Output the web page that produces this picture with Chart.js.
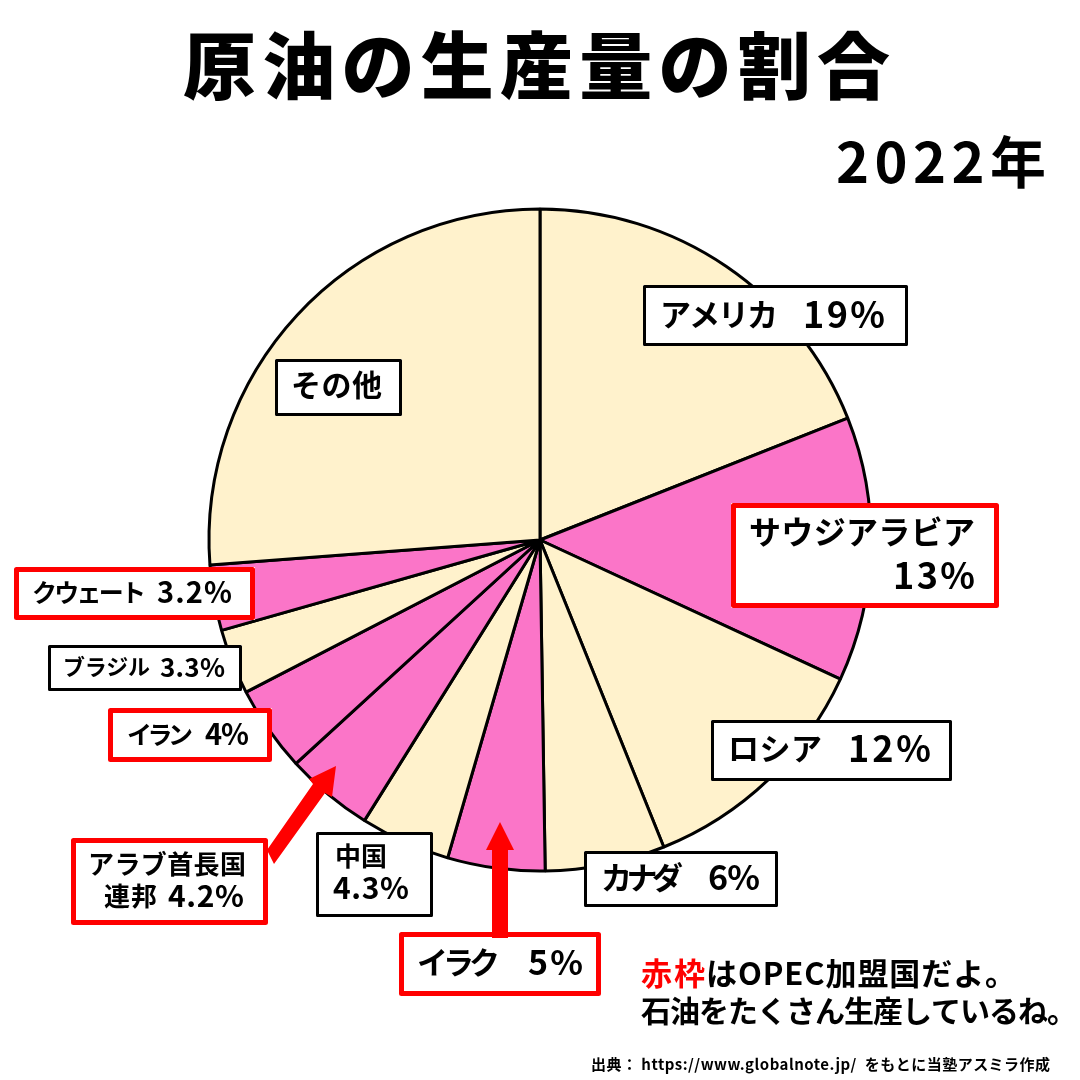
<!DOCTYPE html>
<html lang="ja">
<head>
<meta charset="utf-8">
<title>原油の生産量の割合</title>
<script src="https://cdn.jsdelivr.net/npm/chart.js@4"></script>
<style>html,body{margin:0;padding:0;background:#fff}canvas{display:block}</style>
</head>
<body>
<canvas id="c" width="1080" height="1080"></canvas>
<script>
const categories = ["アメリカ","サウジアラビア","ロシア","カナダ","イラク","中国","アラブ首長国連邦","イラン","ブラジル","クウェート","その他"];
const shares = [19,12.9,12,5.85,4.75,4.4,4.3,4.2,3.2,3.2,26.2];
const opecFlags = [false,true,false,false,true,false,true,true,false,true,false];
const titleText = "原油の生産量の割合";
const yearText = "2022年";
const noteLine1Red = "赤枠";
const noteLine1 = "はOPEC加盟国だよ。";
const noteLine2 = "石油をたくさん生産しているね。";
const sourceText = "出典： https://www.globalnote.jp/  をもとに当塾アスミラ作成";

const CREAM = "#FFF2CC", PINK = "#FB75C8", RED = "#FF0000", INK = "#000000";
const FONT = '"Noto Sans CJK JP","Noto Sans",sans-serif';

// Annotation layout: [outer left, top, right, bottom, red?, text runs]
// each run: [text, x0, x1, centerY, font size]
const boxes = [
  [643,285,908,346,false,[["アメリカ",660,778,314,31],["19%",803,885,314,36]]],
  [731,503,999,608,true,[["サウジアラビア",749,975,532,32],["13%",893,975,575,36]]],
  [711,720,952,781,false,[["ロシア",728,822,748,31],["12%",848,931,748,36]]],
  [584,851,778,907,false,[["カナダ",601,683,877,31],["6%",708,760,877,34]]],
  [399,932,601,996,true,[["イラク",417,500,962,31],["5%",528,583,962,34]]],
  [316,832,433,917,false,[["中国",335,387,856,26],["4.3%",333,409,888,30]]],
  [71,838,268,925,true,[["アラブ首長国",88,246,864,26],["連邦",104,157,896,26],["4.2%",168,244,896,30]]],
  [108,708,272,762,true,[["イラン",127,193,734,25],["4%",205,249,734,29]]],
  [48,645,242,691,false,[["ブラジル",63,150,667,22],["3.3%",160,225,667,26]]],
  [14,567,255,620,true,[["クウェート",32,146,592,25],["3.2%",157,232,592,29]]],
  [275,359,402,416,false,[["その他",291,382,385,30]]]
];
const arrows = [
  [[492,938],[492,850],[486,850],[500,822],[514,850],[508,850],[508,938]],
  [[267,850],[313,784],[309,779],[336,766],[332,797],[325,793],[274,864]]
];

function fitText(ctx, text, x0, x1, cy, size, weight, color) {
  ctx.font = `${weight} ${size}px ${FONT}`;
  ctx.letterSpacing = "0px";
  ctx.fillStyle = color;
  ctx.textAlign = "left";
  ctx.textBaseline = "middle";
  const n = [...text].length;
  const w = ctx.measureText(text).width;
  const ls = n > 1 ? (x1 - x0 - w) / (n - 1) : 0;
  ctx.letterSpacing = ls.toFixed(2) + "px";
  ctx.fillText(text, x0, cy);
  ctx.letterSpacing = "0px";
}

const annotationPlugin = {
  id: "annotationLayer",
  afterDraw(chart) {
    const ctx = chart.ctx;
    ctx.save();
    fitText(ctx, titleText, 183, 890, 65, 73, 900, INK);
    fitText(ctx, yearText, 836, 1046, 162, 56, 700, INK);
    for (const [l, t, r, b, red, runs] of boxes) {
      const lw = red ? 5 : 3;
      ctx.fillStyle = "#fff";
      ctx.fillRect(l, t, r - l, b - t);
      ctx.strokeStyle = red ? RED : INK;
      ctx.lineWidth = lw;
      ctx.lineJoin = "round";
      ctx.strokeRect(l + lw / 2, t + lw / 2, r - l - lw, b - t - lw);
      for (const [s, x0, x1, cy, size] of runs) fitText(ctx, s, x0, x1, cy, size, 700, INK);
    }
    for (const pts of arrows) {
      ctx.beginPath();
      pts.forEach((p, i) => i ? ctx.lineTo(p[0], p[1]) : ctx.moveTo(p[0], p[1]));
      ctx.closePath();
      ctx.fillStyle = RED;
      ctx.fill();
    }
    fitText(ctx, noteLine1Red, 641, 705, 973, 31, 700, RED);
    fitText(ctx, noteLine1, 706, 1016, 973, 31, 700, INK);
    fitText(ctx, noteLine2, 641, 1077, 1011, 30, 700, INK);
    fitText(ctx, sourceText, 591, 1050, 1064, 15, 700, INK);
    ctx.restore();
  }
};

new Chart(document.getElementById("c"), {
  type: "pie",
  data: {
    labels: categories,
    datasets: [{
      data: shares,
      backgroundColor: opecFlags.map(f => f ? PINK : CREAM),
      borderColor: INK,
      borderWidth: 3,
      radius: 331
    }]
  },
  options: {
    responsive: false,
    animation: false,
    layout: { padding: 0 },
    plugins: { legend: { display: false }, tooltip: { enabled: false }, title: { display: false } }
  },
  plugins: [annotationPlugin]
});
</script>
</body>
</html>
